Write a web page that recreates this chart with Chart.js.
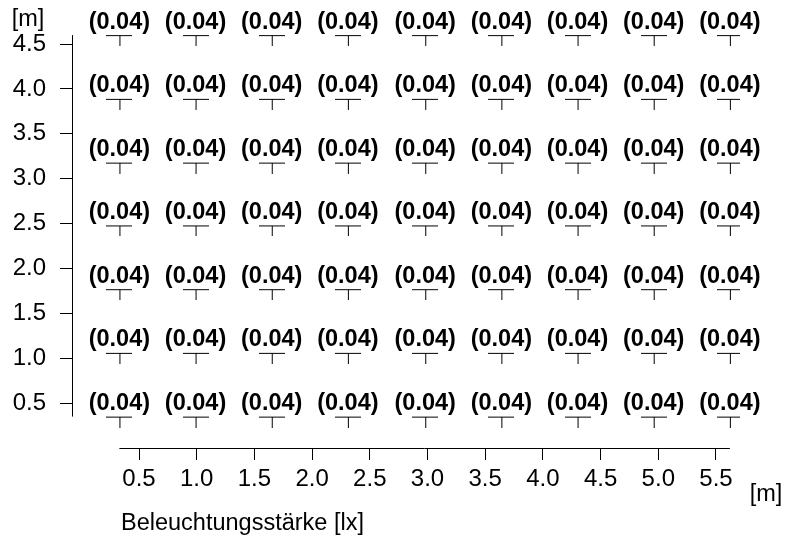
<!DOCTYPE html>
<html>
<head>
<meta charset="utf-8">
<script src="https://cdn.jsdelivr.net/npm/chart.js@4.4.1/dist/chart.umd.min.js"></script>
<style>
  html, body { margin: 0; padding: 0; background: #fff; }
  #wrap { width: 789px; height: 542px; }
</style>
</head>
<body>
<div id="wrap"><canvas id="grid" width="789" height="542"></canvas></div>
<script>
'use strict';

// 측정점 위치 [m]
const xPositions = [0.33, 0.99, 1.65, 2.31, 2.98, 3.64, 4.30, 4.96, 5.62];
const yPositions = [0.35, 1.06, 1.77, 2.48, 3.18, 3.89, 4.60];

// 측정값 (아래 행부터)
const illuminance = [
    [0.04, 0.04, 0.04, 0.04, 0.04, 0.04, 0.04, 0.04, 0.04],
    [0.04, 0.04, 0.04, 0.04, 0.04, 0.04, 0.04, 0.04, 0.04],
    [0.04, 0.04, 0.04, 0.04, 0.04, 0.04, 0.04, 0.04, 0.04],
    [0.04, 0.04, 0.04, 0.04, 0.04, 0.04, 0.04, 0.04, 0.04],
    [0.04, 0.04, 0.04, 0.04, 0.04, 0.04, 0.04, 0.04, 0.04],
    [0.04, 0.04, 0.04, 0.04, 0.04, 0.04, 0.04, 0.04, 0.04],
    [0.04, 0.04, 0.04, 0.04, 0.04, 0.04, 0.04, 0.04, 0.04]
];

const xTicks = [0.5, 1.0, 1.5, 2.0, 2.5, 3.0, 3.5, 4.0, 4.5, 5.0, 5.5];
const yTicks = [0.5, 1.0, 1.5, 2.0, 2.5, 3.0, 3.5, 4.0, 4.5];

const xUnit = '[m]';
const yUnit = '[m]';
const xTitle = 'Beleuchtungsstärke [lx]';

const FONT = '"Liberation Sans", Arial, Helvetica, sans-serif';
const INK = '#000';

// T 모양 마커
function makeMarker() {
    const c = document.createElement('canvas');
    c.width = 26;
    c.height = 22;
    const g = c.getContext('2d');
    g.strokeStyle = INK;
    g.lineWidth = 1;
    g.beginPath();
    g.moveTo(0, 11.5);
    g.lineTo(26, 11.5);
    g.moveTo(13.5, 11.5);
    g.lineTo(13.5, 22);
    g.stroke();
    return c;
}

const points = [];
yPositions.forEach((y, r) => {
    xPositions.forEach((x, c) => {
        points.push({ x: x, y: y, v: illuminance[r][c] });
    });
});

// 축 선, 값 라벨, 단위 라벨
const decoPlugin = {
    id: 'deco',
    afterDatasetsDraw(chart) {
        const ctx = chart.ctx;
        const xs = chart.scales.x;
        const ys = chart.scales.y;
        const area = chart.chartArea;
        ctx.save();
        ctx.strokeStyle = INK;
        ctx.lineWidth = 1;
        ctx.beginPath();
        const ax = Math.round(area.left) + 0.5;
        ctx.moveTo(ax, ys.getPixelForValue(yPositions[0]));
        ctx.lineTo(ax, ys.getPixelForValue(yPositions[yPositions.length - 1]));
        const ay = Math.round(area.bottom) + 0.5;
        ctx.moveTo(xs.getPixelForValue(xPositions[0]), ay);
        ctx.lineTo(xs.getPixelForValue(xPositions[xPositions.length - 1]), ay);
        ctx.stroke();

        ctx.fillStyle = INK;
        ctx.font = 'bold 23.5px ' + FONT;
        ctx.textAlign = 'center';
        ctx.textBaseline = 'middle';
        chart.getDatasetMeta(0).data.forEach((el, i) => {
            ctx.fillText('(' + points[i].v.toFixed(2) + ')', el.x, el.y - 13);
        });

        ctx.font = '23.5px ' + FONT;
        ctx.fillText(yUnit, 28, 20);
        ctx.fillText(xUnit, 766, 495);
        ctx.textAlign = 'left';
        ctx.fillText(xTitle, 121, 524);
        ctx.restore();
    }
};

new Chart(document.getElementById('grid'), {
    type: 'scatter',
    data: {
        datasets: [{
            data: points,
            pointStyle: makeMarker(),
            pointRadius: 13,
            pointHoverRadius: 13
        }]
    },
    options: {
        responsive: false,
        animation: false,
        layout: { padding: { top: 30, right: 49, bottom: 0, left: 0 } },
        plugins: {
            legend: { display: false },
            tooltip: { enabled: false }
        },
        scales: {
            x: {
                type: 'linear',
                min: -0.0806,
                max: 5.708,
                afterBuildTicks: s => { s.ticks = xTicks.map(v => ({ value: v })); },
                afterFit: s => { s.height = 94; },
                border: { display: false },
                grid: { drawOnChartArea: false, drawTicks: true, tickLength: 12, color: INK },
                ticks: {
                    color: INK,
                    padding: 5,
                    maxRotation: 0,
                    font: { family: FONT, size: 24 },
                    callback: v => v.toFixed(1)
                }
            },
            y: {
                type: 'linear',
                min: 0,
                max: 4.657,
                afterBuildTicks: s => { s.ticks = yTicks.map(v => ({ value: v })); },
                afterFit: s => { s.width = 72; },
                border: { display: false },
                grid: { drawOnChartArea: false, drawTicks: true, tickLength: 12, color: INK },
                ticks: {
                    color: INK,
                    padding: 14,
                    font: { family: FONT, size: 24 },
                    callback: v => v.toFixed(1)
                }
            }
        }
    },
    plugins: [decoPlugin]
});
</script>
</body>
</html>
